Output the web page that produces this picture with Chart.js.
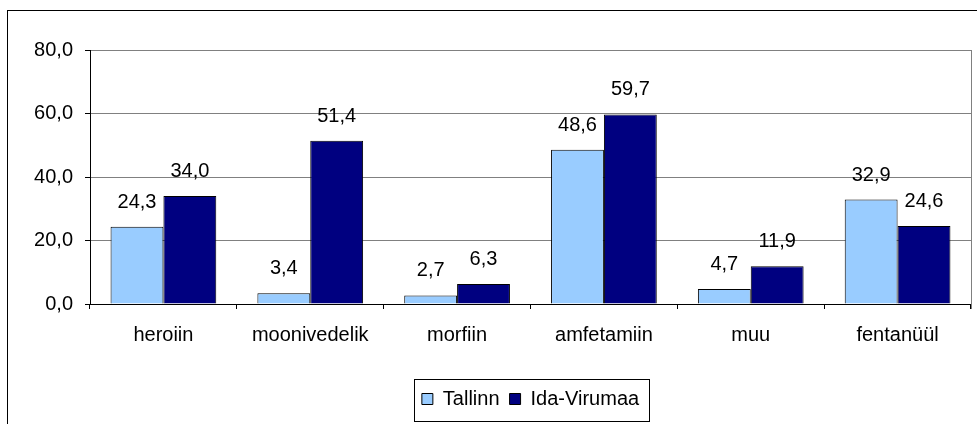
<!DOCTYPE html>
<html>
<head>
<meta charset="utf-8">
<script src="https://cdn.jsdelivr.net/npm/chart.js@4.4.1/dist/chart.umd.min.js"></script>
<style>
  body { margin: 0; background: #fff; }
  canvas { display: block; }
</style>
</head>
<body>
<canvas id="chart" width="977" height="424"></canvas>
<script>
const categories = ['heroiin', 'moonivedelik', 'morfiin', 'amfetamiin', 'muu', 'fentanüül'];
const tallinn = [24.3, 3.4, 2.7, 48.6, 4.7, 32.9];
const idaVirumaa = [34.0, 51.4, 6.3, 59.7, 11.9, 24.6];
const yMin = 0;
const yMax = 80;
const yStep = 20;

const fmt = (v) => v.toFixed(1).replace('.', ',');

Chart.defaults.font.family = '"Liberation Sans", Arial, sans-serif';
Chart.defaults.font.size = 20;
Chart.defaults.color = '#000';

// outer frame, plot right edge, legend box
const frame = {
  id: 'frame',
  beforeDraw(chart) {
    const ctx = chart.ctx;
    ctx.save();
    ctx.fillStyle = '#fff';
    ctx.fillRect(0, 0, chart.width, chart.height);
    ctx.strokeStyle = '#000';
    ctx.lineWidth = 1;
    ctx.strokeRect(7.5, 10.5, chart.width + 20, chart.height + 20);
    ctx.restore();
  },
  afterLayout(chart) {
    const lg = chart.legend;
    const a = chart.chartArea;
    lg.left = a.left;
    lg.right = a.right;
    lg.top = 379;
    lg.bottom = 379 + lg.height;
  },
  afterDraw(chart) {
    const ctx = chart.ctx;
    const a = chart.chartArea;
    ctx.save();
    ctx.strokeStyle = '#808080';
    ctx.lineWidth = 1;
    ctx.beginPath();
    ctx.moveTo(Math.round(a.right) + 0.5, a.top);
    ctx.lineTo(Math.round(a.right) + 0.5, a.bottom + 5);
    ctx.stroke();

    const hb = chart.legend.legendHitBoxes;
    if (hb && hb.length) {
      const last = hb[hb.length - 1];
      const l = Math.round(hb[0].left - 8) + 0.5;
      const r = Math.round(last.left + last.width + 10) + 0.5;
      ctx.strokeStyle = '#000';
      ctx.strokeRect(l, 379.5, r - l, 42);
    }
    ctx.restore();
  }
};

const valueLabels = {
  id: 'valueLabels',
  afterDatasetsDraw(chart) {
    const ctx = chart.ctx;
    ctx.save();
    ctx.font = '20px "Liberation Sans", Arial, sans-serif';
    ctx.fillStyle = '#000';
    ctx.textAlign = 'center';
    ctx.textBaseline = 'alphabetic';
    chart.data.datasets.forEach((ds, i) => {
      chart.getDatasetMeta(i).data.forEach((bar, j) => {
        ctx.fillText(fmt(ds.data[j]), bar.x, bar.y - 19);
      });
    });
    ctx.restore();
  }
};

new Chart(document.getElementById('chart'), {
  type: 'bar',
  data: {
    labels: categories,
    datasets: [
      {
        label: 'Tallinn',
        data: tallinn,
        backgroundColor: '#99CCFF',
        borderColor: '#000',
        borderWidth: 1,
      },
      {
        label: 'Ida-Virumaa',
        data: idaVirumaa,
        backgroundColor: '#000080',
        borderColor: '#000',
        borderWidth: 1,
      },
    ],
  },
  options: {
    responsive: false,
    animation: false,
    devicePixelRatio: 1,
    categoryPercentage: 0.72,
    barPercentage: 1,
    layout: { padding: { top: 50, right: 6, left: 0, bottom: 0 } },
    plugins: {
      legend: {
        position: 'bottom',
        labels: { boxWidth: 11, boxHeight: 11, padding: 10, color: '#000' },
      },
      tooltip: { enabled: false },
    },
    scales: {
      x: {
        grid: { drawOnChartArea: false, tickLength: 5, tickColor: '#000' },
        border: { color: '#000' },
        ticks: { padding: 14 },
        afterFit(scale) {
          scale.height = 120 - scale.chart.legend.height;
        },
      },
      y: {
        min: yMin,
        max: yMax,
        grid: { color: '#808080', tickLength: 5, tickColor: '#000' },
        border: { color: '#000' },
        ticks: { stepSize: yStep, padding: 12, callback: (v) => fmt(v) },
        afterFit(scale) {
          scale.width = 90;
        },
      },
    },
  },
  plugins: [frame, valueLabels],
});
</script>
</body>
</html>
